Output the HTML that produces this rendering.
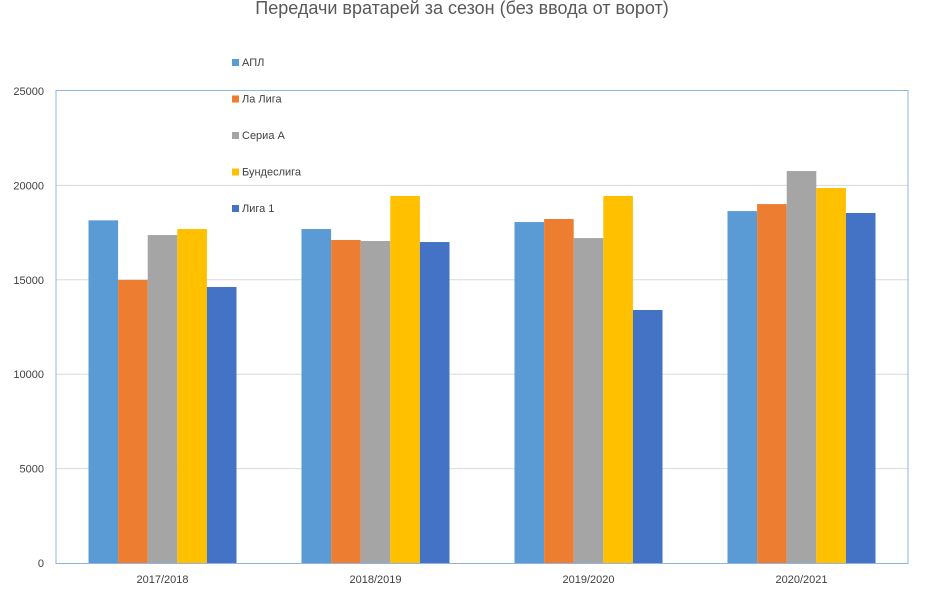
<!DOCTYPE html>
<html><head><meta charset="utf-8">
<style>
html,body{margin:0;padding:0;background:#fff;}
svg{display:block;font-family:"Liberation Sans","DejaVu Sans",sans-serif;}
</style></head>
<body>
<svg id="chart" width="927" height="594">
  <text x="462" y="14" text-anchor="middle" font-size="18" fill="#595959">Передачи вратарей за сезон (без ввода от ворот)</text>
  <g id="grid"></g>
  <rect x="56" y="90.5" width="852" height="473" fill="none" stroke="#8eb4e3" stroke-width="1"/>
  <g id="bars"></g>
  <g id="yticks"></g>
  <g id="xticks"></g>
  <g id="legend"></g>
</svg>
<script>
const categories = ["2017/2018","2018/2019","2019/2020","2020/2021"];
const seriesNames = ["АПЛ","Ла Лига","Сериа А","Бундеслига","Лига 1"];
const apl = [18150, 17690, 18060, 18640];
const laliga = [14990, 17110, 18220, 19010];
const seriea = [17370, 17055, 17210, 20760];
const bundesliga = [17690, 19440, 19440, 19860];
const ligue1 = [14620, 17000, 13400, 18540];
const yTicks = [0, 5000, 10000, 15000, 20000, 25000];
const series = [apl, laliga, seriea, bundesliga, ligue1];
const colors = ["#5b9bd5","#ed7d31","#a5a5a5","#ffc000","#4472c4"];
const NS = "http://www.w3.org/2000/svg";
const X0 = 56, X1 = 908, Y0 = 563, Y1 = 91, YMAX = 25000;
const y = v => Y0 - v / YMAX * (Y0 - Y1);
const catW = (X1 - X0) / categories.length;
const barW = 29.6, gOff = (catW - barW * series.length) / 2;
function mk(tag, attrs, parent) {
  const e = document.createElementNS(NS, tag);
  for (const k in attrs) e.setAttribute(k, attrs[k]);
  parent.appendChild(e);
  return e;
}
const grid = document.getElementById('grid');
const yt = document.getElementById('yticks');
yTicks.forEach(t => {
  if (t > 0 && t < YMAX) {
    const l = mk('line', {x1: X0, x2: X1, y1: y(t), y2: y(t), stroke: '#d9d9d9', 'stroke-width': 1}, grid);
    
    
  }
  const tx = mk('text', {x: 44, y: y(t) + 4, 'text-anchor': 'end', 'font-size': 11, fill: '#404040'}, yt);
  tx.textContent = t;
  
  
});
const bars = document.getElementById('bars');
categories.forEach((c, i) => {
  series.forEach((s, j) => {
    const bx = X0 + i * catW + gOff + j * barW;
    const r = mk('rect', {x: bx, y: y(s[i]), width: barW, height: Y0 - y(s[i]), fill: colors[j]}, bars);
    
    
  });
  const tx = mk('text', {x: X0 + (i + 0.5) * catW, y: 583, 'text-anchor': 'middle', 'font-size': 11, fill: '#404040'}, document.getElementById('xticks'));
  tx.textContent = c;
  
  
});
const base = mk('line', {x1: X0, x2: X1, y1: Y0 + 0.5, y2: Y0 + 0.5, stroke: '#d9d9d9'}, grid);


const leg = document.getElementById('legend');
seriesNames.forEach((n, j) => {
  const ly = 63 + j * 36.5;
  const g = mk('g', {}, leg);
  
  
  mk('rect', {x: 232, y: ly - 4, width: 7, height: 7, fill: colors[j]}, g);
  const t = mk('text', {x: 242, y: ly + 3, 'font-size': 11, fill: '#404040'}, g);
  t.textContent = n;
});
</script>
</body></html>
